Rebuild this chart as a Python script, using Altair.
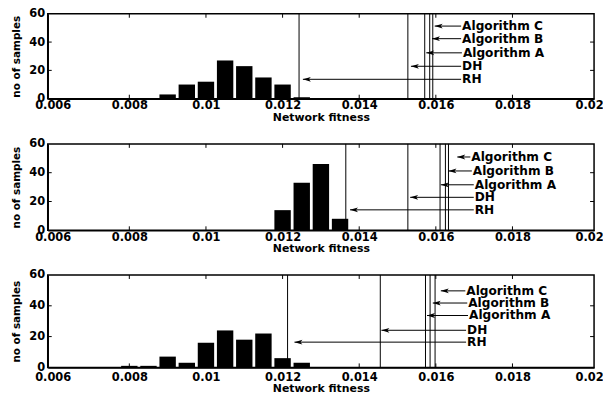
import altair as alt
import pandas as pd

# ---------------- data ----------------
x_tick_values = [0.006, 0.008, 0.01, 0.012, 0.014, 0.016, 0.018, 0.02]
y_tick_values = [0, 20, 40, 60]
inner_x_ticks = [0.008, 0.01, 0.012, 0.014, 0.016, 0.018]
inner_y_ticks = [20, 40]

labels = ["RH", "DH", "Algorithm A", "Algorithm B", "Algorithm C"]

# panel 1
bins_1 = [0.009, 0.0095, 0.010, 0.0105, 0.011, 0.0115, 0.012, 0.0125]
counts_1 = [3, 10, 12, 27, 23, 15, 10, 1]
lines_1 = [0.01243, 0.01527, 0.01571, 0.01584, 0.01592]
tips_1 = [0.01253, 0.01535, 0.01575, 0.01590, 0.01597]
tails_1 = [0.01666, 0.01666, 0.01668, 0.01666, 0.01666]
label_y_1 = [13.7, 22.9, 32.4, 42.4, 51.3]

# panel 2
bins_2 = [0.012, 0.0125, 0.013, 0.0135]
counts_2 = [14, 33, 46, 8]
lines_2 = [0.01365, 0.01527, 0.01611, 0.01625, 0.01633]
tips_2 = [0.01376, 0.01533, 0.01613, 0.01633, 0.01656]
tails_2 = [0.01699, 0.01699, 0.01699, 0.01694, 0.01690]
label_y_2 = [14.2, 22.9, 31.6, 41.2, 50.9]

# panel 3
bins_3 = [0.008, 0.0085, 0.009, 0.0095, 0.010, 0.0105, 0.011, 0.0115, 0.012, 0.0125]
counts_3 = [1, 1, 7, 3, 16, 24, 18, 22, 6, 3]
lines_3 = [0.01213, 0.01455, 0.01573, 0.01585, 0.01598]
tips_3 = [0.01231, 0.01458, 0.01577, 0.01592, 0.01613]
tails_3 = [0.01679, 0.01679, 0.01684, 0.01682, 0.01677]
label_y_3 = [16.4, 24.1, 33.7, 41.8, 49.7]

W = 550
FONT = "DejaVu Sans"
ARROW = "M0,0 L1,-0.3 L0.75,0 L1,0.3 Z"


def panel(bins, counts, lines, tips, tails, label_y, height, lab_pad, title_pad):
    bars_df = pd.DataFrame({"x": bins, "n": counts})
    lines_df = pd.DataFrame({"x": lines, "name": labels})
    ann_df = pd.DataFrame({"name": labels, "tip": tips, "tail": tails, "y": label_y})
    xt_df = pd.DataFrame({"x": inner_x_ticks})
    yt_df = pd.DataFrame({"y": inner_y_ticks})

    xscale = alt.Scale(domain=[0.006, 0.02], nice=False, zero=False)
    yscale = alt.Scale(domain=[0, 60], nice=False)
    xaxis = alt.Axis(values=x_tick_values, format="~g", title="Network fitness",
                     labelFlush=False, labelOverlap=False, ticks=False,
                     labelPadding=lab_pad, titlePadding=title_pad,
                     titleFontSize=11, grid=False)
    yaxis = alt.Axis(values=y_tick_values, format="d", title="no of samples",
                     ticks=False, labelPadding=3, titlePadding=7,
                     titleFontSize=10.5, grid=False, labelFlush=False)

    def X(field):
        return alt.X(field, type="quantitative", scale=xscale, axis=xaxis)

    def Y(field):
        return alt.Y(field, type="quantitative", scale=yscale, axis=yaxis)

    bars = alt.Chart(bars_df).mark_bar(width=16.5, color="black").encode(
        x=X("x"), y=Y("n"))
    vlines = alt.Chart(lines_df).mark_rule(color="black", strokeWidth=1).encode(
        x=X("x"))
    top_ticks = alt.Chart(xt_df).mark_rule(color="black", strokeWidth=1).encode(
        x=X("x"), y=alt.value(0), y2=alt.value(4))
    bot_ticks = alt.Chart(xt_df).mark_rule(color="black", strokeWidth=1).encode(
        x=X("x"), y=alt.value(height), y2=alt.value(height - 4))
    left_ticks = alt.Chart(yt_df).mark_rule(color="black", strokeWidth=1).encode(
        y=Y("y"), x=alt.value(0), x2=alt.value(4))
    right_ticks = alt.Chart(yt_df).mark_rule(color="black", strokeWidth=1).encode(
        y=Y("y"), x=alt.value(W), x2=alt.value(W - 4))
    shafts = alt.Chart(ann_df).mark_rule(color="black", strokeWidth=1).encode(
        x=X("tip"), x2="tail:Q", y=Y("y"))
    heads = alt.Chart(ann_df).mark_point(
        shape=ARROW, filled=True, size=256, color="black", opacity=1,
        strokeWidth=0).encode(x=X("tip"), y=Y("y"))
    texts = alt.Chart(ann_df).mark_text(
        align="left", baseline="middle", dx=1, fontSize=12.2,
        fontWeight="bold", font=FONT, color="black").encode(
        x=X("tail"), y=Y("y"), text="name:N")

    return alt.layer(bars, vlines, top_ticks, bot_ticks, left_ticks,
                     right_ticks, shafts, heads, texts).properties(
        width=W, height=height)


p1 = panel(bins_1, counts_1, lines_1, tips_1, tails_1, label_y_1, 85.5, 1, 0)
p2 = panel(bins_2, counts_2, lines_2, tips_2, tails_2, label_y_2, 87, 1, 0)
p3 = panel(bins_3, counts_3, lines_3, tips_3, tails_3, label_y_3, 93, 4, 0)

chart = alt.vconcat(p1, p2, p3, spacing=45, bounds="flush").properties(
    padding={"left": 3, "top": -2.5, "right": -1, "bottom": -1}
).configure_view(
    stroke="black", strokeWidth=1.5
).configure_axis(
    labelFont=FONT, labelFontWeight="bold", labelFontSize=11.5,
    labelColor="black", titleFont=FONT, titleFontWeight="bold",
    titleColor="black", domainColor="black", domainWidth=1.5
)

chart.save("out.html", embed_options={"renderer": "svg", "actions": False})
